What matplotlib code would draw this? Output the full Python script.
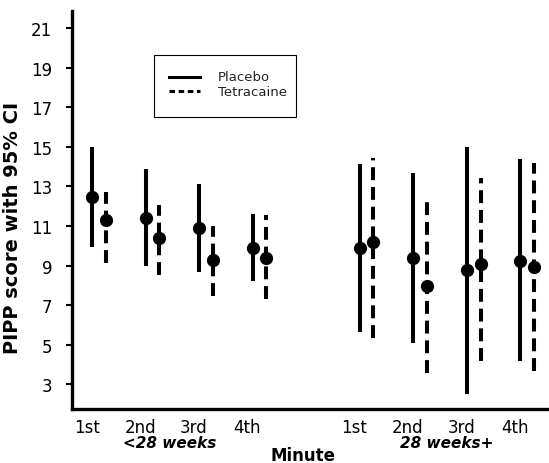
import matplotlib
matplotlib.use("Agg")
import matplotlib.pyplot as plt
from matplotlib.lines import Line2D
from matplotlib.patches import Rectangle
import matplotlib.transforms as mtransforms

plt.rcParams['font.family'] = ['DejaVu Sans']

# data (PIPP score, mean and 95% CI)
minutes = ['1st', '2nd', '3rd', '4th', '1st', '2nd', '3rd', '4th']
groups = ['<28 weeks', '28 weeks+']
series = ['Placebo', 'Tetracaine']

placebo_mean = [12.45, 11.4, 10.9, 9.9, 9.9, 9.4, 8.75, 9.25]
placebo_low = [9.95, 9.0, 8.65, 8.2, 5.65, 5.1, 2.5, 4.15]
placebo_high = [15.0, 13.9, 13.1, 11.6, 14.15, 13.7, 15.0, 14.4]

tetra_mean = [11.3, 10.4, 9.3, 9.4, 10.2, 7.95, 9.1, 8.95]
tetra_low = [9.15, 8.5, 7.45, 7.3, 5.35, 3.55, 4.15, 3.65]
tetra_high = [12.7, 12.05, 11.0, 11.55, 14.45, 12.35, 13.4, 14.2]

DASHED = (0, (3.2, 1.7))


def category_positions():
    # two groups of four minutes with an empty slot between them
    return [1, 2, 3, 4, 6, 7, 8, 9]


def draw_legend(ax):
    """Boxed key in the upper left, drawn by hand to match the original."""
    ax.add_patch(Rectangle((0.172, 0.734), 0.298, 0.155, transform=ax.transAxes,
                           facecolor='white', edgecolor='black', linewidth=0.8,
                           zorder=4))
    rows = [(0.835, '-'), (0.798, (0, (1.8, 1.2)))]
    for (y, ls), name in zip(rows, series):
        ax.add_line(Line2D([0.203, 0.268], [y, y], transform=ax.transAxes,
                           color='black', linewidth=2.2, linestyle=ls,
                           zorder=5))
        ax.text(0.306, y, name, transform=ax.transAxes, ha='left',
                va='center', fontsize=9.5, color='#222222', zorder=5)


def main():
    fig = plt.figure(figsize=(5.49, 4.64), dpi=100)
    ax = fig.add_axes([0.131, 0.116, 0.869, 0.858])

    pos = category_positions()
    off = 0.13
    xp = [p - off for p in pos]
    xt = [p + off for p in pos]

    lw = 2.9
    ax.vlines(xp, placebo_low, placebo_high, colors='black', linewidth=lw,
              linestyle='-')
    ax.vlines(xt, tetra_low, tetra_high, colors='black', linewidth=lw,
              linestyle=DASHED)
    ax.plot(xp, placebo_mean, 'o', color='black', markersize=8.5, zorder=3)
    ax.plot(xt, tetra_mean, 'o', color='black', markersize=8.5, zorder=3)

    ax.set_xlim(0.495, 9.41)
    ax.set_ylim(1.74, 21.86)
    ax.set_yticks(range(3, 22, 2))
    ax.set_xticks([p - 0.23 for p in pos])
    ax.set_xticklabels(minutes)
    ax.tick_params(axis='y', length=4, width=1.5, pad=10, labelsize=12)
    ax.tick_params(axis='x', length=0, pad=6, labelsize=12)

    for side in ['top', 'right']:
        ax.spines[side].set_visible(False)
    for side in ['left', 'bottom']:
        ax.spines[side].set_linewidth(2.4)

    ax.set_ylabel('PIPP score with 95% CI', fontsize=14, fontweight='bold')
    ax.yaxis.set_label_coords(-0.105, 0.457)

    trans = mtransforms.blended_transform_factory(ax.transData, ax.transAxes)
    ax.text(2.33, -0.083, groups[0], transform=trans, ha='center', va='center',
            fontsize=11, fontweight='bold', style='italic')
    ax.text(7.49, -0.083, groups[1], transform=trans, ha='center', va='center',
            fontsize=11, fontweight='bold', style='italic')
    ax.text(4.81, -0.116, 'Minute', transform=trans, ha='center', va='center',
            fontsize=12, fontweight='bold')

    draw_legend(ax)

    fig.savefig('out.png', dpi=100)


if __name__ == '__main__':
    main()
